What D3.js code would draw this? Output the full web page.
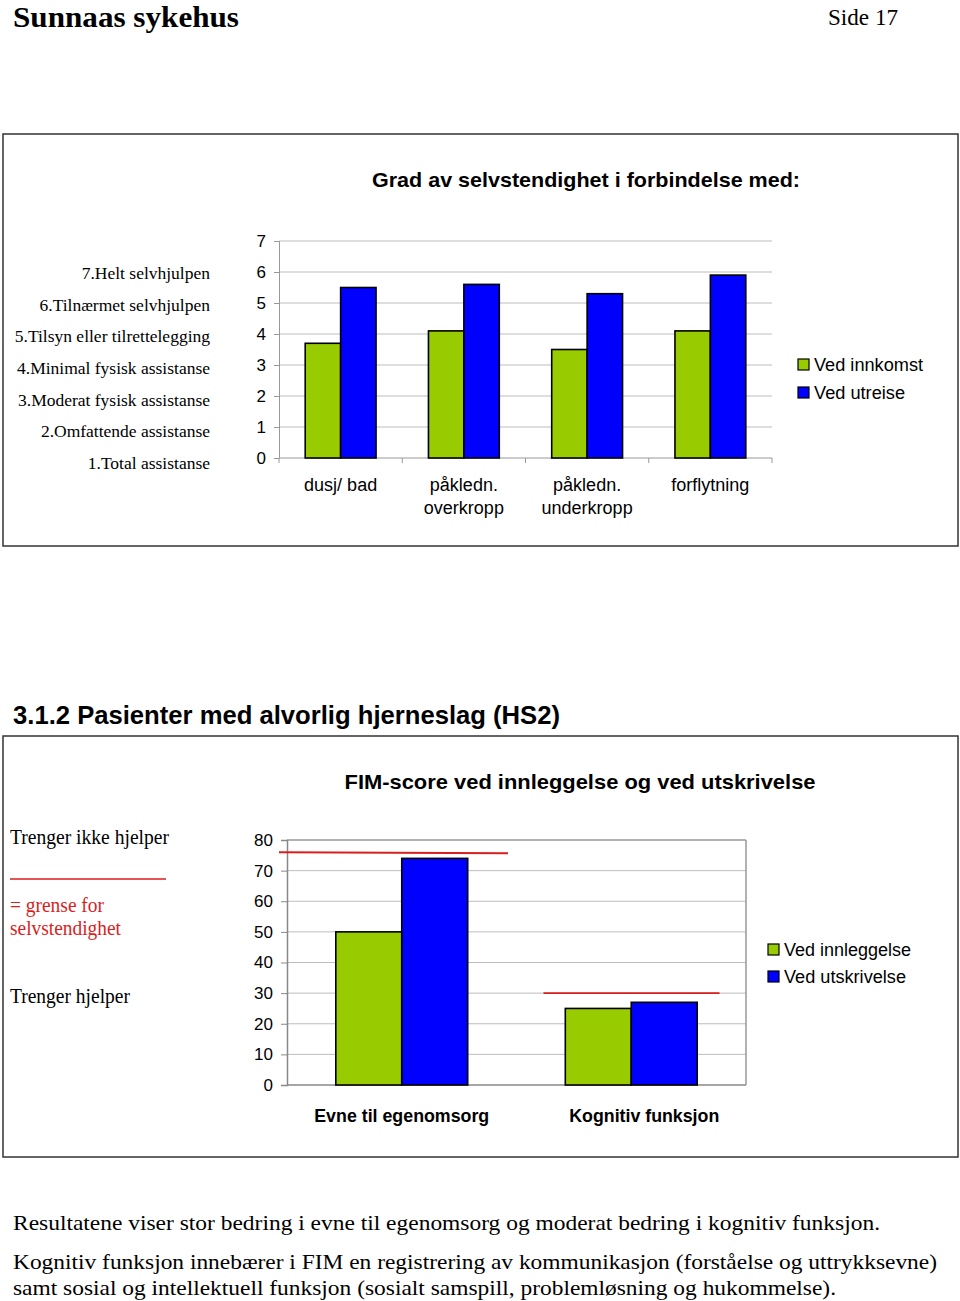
<!DOCTYPE html>
<html><head><meta charset="utf-8">
<script src="https://cdn.jsdelivr.net/npm/d3@7"></script>
<style>body{margin:0;background:#fff}</style>
</head><body>
<svg id="c" width="960" height="1301"></svg>
<script>
// ---------- data ----------
const cats1 = ["dusj/ bad", "påkledn.\noverkropp", "påkledn.\nunderkropp", "forflytning"];
const innkomst = [3.7, 4.1, 3.5, 4.1];
const utreise = [5.5, 5.6, 5.3, 5.9];
const ticks1 = [0, 1, 2, 3, 4, 5, 6, 7];
const levels = ["7.Helt selvhjulpen", "6.Tilnærmet selvhjulpen", "5.Tilsyn eller tilrettelegging",
  "4.Minimal fysisk assistanse", "3.Moderat fysisk assistanse", "2.Omfattende assistanse", "1.Total assistanse"];
const series1 = ["Ved innkomst", "Ved utreise"];

const cats2 = ["Evne til egenomsorg", "Kognitiv funksjon"];
const innleggelse = [50, 25];
const utskrivelse = [74, 27];
const grense = [76, 30];
const ticks2 = [0, 10, 20, 30, 40, 50, 60, 70, 80];
const series2 = ["Ved innleggelse", "Ved utskrivelse"];

const colors = ["#99cc00", "#0000ff"];

const svg = d3.select("#c");
const serif = "'Liberation Serif','Times New Roman',serif";
const sans = "'Liberation Sans',Arial,sans-serif";

function txt(x, y, s, o) {
  o = o || {};
  const t = svg.append("text").attr("x", x).attr("y", y).attr("dy", "0.35em")
    .attr("font-family", o.ff || sans).attr("font-size", o.fs || 17)
    .attr("font-weight", o.fw || "normal").attr("fill", o.fill || "#000")
    .attr("text-anchor", o.anchor || "start").text(s);
  if (o.tl) t.attr("textLength", o.tl).attr("lengthAdjust", "spacingAndGlyphs");
  return t;
}

// ---------- page header ----------
txt(13, 17, "Sunnaas sykehus", {ff: serif, fs: 29, fw: "bold", tl: 226});
txt(828, 17, "Side 17", {ff: serif, fs: 23, tl: 70});

// ---------- chart 1 ----------
svg.append("rect").attr("x", 3).attr("y", 134).attr("width", 955).attr("height", 412)
  .attr("fill", "none").attr("stroke", "#333").attr("stroke-width", 1.5);
txt(586, 180, "Grad av selvstendighet i forbindelse med:", {fs: 21, fw: "bold", anchor: "middle", tl: 428});

const x1 = d3.scaleBand().domain(cats1).range([279, 772]);
const xs1 = d3.scaleBand().domain(series1).range([0, x1.bandwidth()]).paddingInner(0).paddingOuter(0.74);
const y1 = d3.scaleLinear().domain([0, 7]).range([458, 241]);

svg.append("g").selectAll("line").data(ticks1.filter(d => d > 0)).join("line")
  .attr("x1", 279).attr("x2", 772).attr("y1", d => y1(d)).attr("y2", d => y1(d))
  .attr("stroke", "#bdbdbd").attr("stroke-width", 1);

const ax1 = svg.append("g").attr("transform", "translate(279,0)")
  .call(d3.axisLeft(y1).tickValues(ticks1).tickSize(5).tickPadding(8).tickFormat(d3.format("d")));
ax1.select(".domain").attr("stroke", "#999");
ax1.selectAll(".tick line").attr("stroke", "#999");
ax1.selectAll("text").attr("font-family", sans).attr("font-size", 17).attr("fill", "#000");

// bottom axis
svg.append("line").attr("x1", 279).attr("x2", 772).attr("y1", y1(0)).attr("y2", y1(0)).attr("stroke", "#999");
svg.append("g").selectAll("line").data(d3.range(cats1.length + 1)).join("line")
  .attr("x1", i => 279 + i * x1.step()).attr("x2", i => 279 + i * x1.step())
  .attr("y1", y1(0)).attr("y2", y1(0) + 5).attr("stroke", "#999");

const data1 = cats1.map((c, i) => ({c, vals: [innkomst[i], utreise[i]]}));
const grp1 = svg.selectAll("g.cat1").data(data1).join("g").attr("class", "cat1")
  .attr("transform", d => `translate(${x1(d.c)},0)`);
grp1.selectAll("rect").data(d => d.vals.map((v, j) => ({v, s: series1[j], j}))).join("rect")
  .attr("x", d => xs1(d.s)).attr("width", xs1.bandwidth())
  .attr("y", d => y1(d.v)).attr("height", d => y1(0) - y1(d.v))
  .attr("fill", d => colors[d.j]).attr("stroke", "#000").attr("stroke-width", 1.6);

cats1.forEach(c => {
  c.split("\n").forEach((line, k) => {
    txt(x1(c) + x1.bandwidth() / 2, 485 + k * 23, line, {fs: 18, anchor: "middle"});
  });
});

// level labels
const yl = d3.scaleLinear().domain([0, 6]).range([y1(6) + 1, y1(0) + 5]);
levels.forEach((l, i) => txt(210, yl(i), l, {ff: serif, fs: 17.5, anchor: "end"}));

// legend 1
const legW1 = [109, 91];
series1.forEach((s, j) => {
  svg.append("rect").attr("x", 798).attr("y", 359 + j * 28).attr("width", 11).attr("height", 11)
    .attr("fill", colors[j]).attr("stroke", "#000").attr("stroke-width", 1.2);
  txt(814, 365 + j * 28, s, {fs: 18, tl: legW1[j]});
});

// ---------- chart 2 ----------
txt(13, 715, "3.1.2  Pasienter med alvorlig hjerneslag (HS2)", {fs: 25, fw: "bold", tl: 547});
svg.append("rect").attr("x", 3).attr("y", 736).attr("width", 955).attr("height", 421)
  .attr("fill", "none").attr("stroke", "#333").attr("stroke-width", 1.5);
txt(580, 782, "FIM-score ved innleggelse og ved utskrivelse", {fs: 21, fw: "bold", anchor: "middle", tl: 471});

const x2 = d3.scaleBand().domain(cats2).range([287, 746]);
const xs2 = d3.scaleBand().domain(series2).range([0, x2.bandwidth()]).paddingInner(0).paddingOuter(0.74);
const y2 = d3.scaleLinear().domain([0, 80]).range([1085, 840]);

svg.append("g").selectAll("line").data(ticks2.filter(d => d > 0 && d < 80)).join("line")
  .attr("x1", 287).attr("x2", 746).attr("y1", d => y2(d)).attr("y2", d => y2(d))
  .attr("stroke", "#bdbdbd");
// plot frame top/right
svg.append("line").attr("x1", 287).attr("x2", 746).attr("y1", y2(80)).attr("y2", y2(80)).attr("stroke", "#999").attr("stroke-width", 1.5);
svg.append("line").attr("x1", 746).attr("x2", 746).attr("y1", y2(80)).attr("y2", y2(0)).attr("stroke", "#999").attr("stroke-width", 1.5);

const ax2 = svg.append("g").attr("transform", "translate(287,0)")
  .call(d3.axisLeft(y2).tickValues(ticks2).tickSize(6).tickPadding(8).tickFormat(d3.format("d")));
ax2.select(".domain").attr("stroke", "#888").attr("stroke-width", 1.5);
ax2.selectAll(".tick line").attr("stroke", "#888");
ax2.selectAll("text").attr("font-family", sans).attr("font-size", 17).attr("fill", "#000");
svg.append("line").attr("x1", 287).attr("x2", 746).attr("y1", y2(0)).attr("y2", y2(0)).attr("stroke", "#888").attr("stroke-width", 1.5);

const data2 = cats2.map((c, i) => ({c, vals: [innleggelse[i], utskrivelse[i]]}));
const grp2 = svg.selectAll("g.cat2").data(data2).join("g").attr("class", "cat2")
  .attr("transform", d => `translate(${x2(d.c)},0)`);
grp2.selectAll("rect").data(d => d.vals.map((v, j) => ({v, s: series2[j], j}))).join("rect")
  .attr("x", d => xs2(d.s)).attr("width", xs2.bandwidth())
  .attr("y", d => y2(d.v)).attr("height", d => y2(0) - y2(d.v))
  .attr("fill", d => colors[d.j]).attr("stroke", "#000").attr("stroke-width", 1.6);

// threshold lines
const lineExt = [[-8, 221], [27, 203]];
grense.forEach((g, i) => {
  svg.append("line")
    .attr("x1", x2(cats2[i]) + lineExt[i][0]).attr("x2", x2(cats2[i]) + lineExt[i][1])
    .attr("y1", y2(g)).attr("y2", y2(g) + (i === 0 ? 1 : 0))
    .attr("stroke", "#d81e1e").attr("stroke-width", 1.8);
});

const catW2 = [175, 150];
cats2.forEach((c, i) => txt(x2(c) + x2.bandwidth() / 2 + (i === 1 ? 13 : 0), 1116, c,
  {fs: 18, fw: "bold", anchor: "middle", tl: catW2[i]}));

// left notes
txt(10, 837, "Trenger ikke hjelper", {ff: serif, fs: 20, tl: 159});
svg.append("line").attr("x1", 10).attr("x2", 166).attr("y1", 879).attr("y2", 879).attr("stroke", "#d81e1e").attr("stroke-width", 1.3);
txt(10, 905, "= grense for", {ff: serif, fs: 20, fill: "#d81e1e", tl: 94});
txt(10, 928, "selvstendighet", {ff: serif, fs: 20, fill: "#d81e1e", tl: 111});
txt(10, 996, "Trenger hjelper", {ff: serif, fs: 20, tl: 120});

// legend 2
const legW2 = [127, 122];
series2.forEach((s, j) => {
  svg.append("rect").attr("x", 768).attr("y", 944 + j * 27).attr("width", 11).attr("height", 11)
    .attr("fill", colors[j]).attr("stroke", "#000").attr("stroke-width", 1.2);
  txt(784, 950 + j * 27, s, {fs: 18, tl: legW2[j]});
});

// ---------- body text ----------
txt(13, 1222, "Resultatene viser stor bedring i evne til egenomsorg og moderat bedring i kognitiv funksjon.", {ff: serif, fs: 22, tl: 867});
txt(13, 1261, "Kognitiv funksjon innebærer i FIM en registrering av kommunikasjon (forståelse og uttrykksevne)", {ff: serif, fs: 22, tl: 924});
txt(13, 1287, "samt sosial og intellektuell funksjon (sosialt samspill, problemløsning og hukommelse).", {ff: serif, fs: 22, tl: 823});
</script>
</body></html>
